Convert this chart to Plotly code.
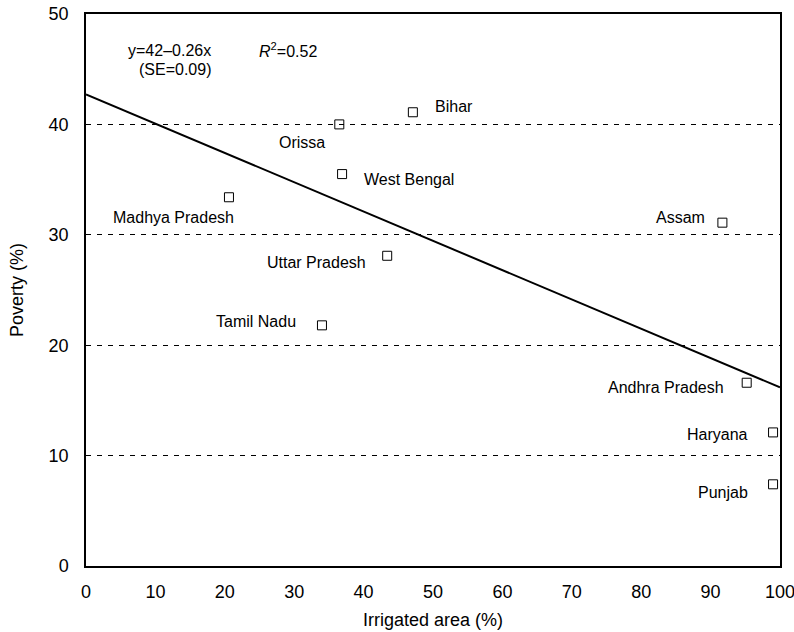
import numpy as np
import plotly.graph_objects as go

# State-level data: share of irrigated area vs. poverty rate
states = ["Bihar", "Orissa", "West Bengal", "Madhya Pradesh", "Assam",
          "Uttar Pradesh", "Tamil Nadu", "Andhra Pradesh", "Haryana", "Punjab"]
irrigated = [47.1, 36.5, 36.9, 20.6, 91.7, 43.4, 34.0, 95.2, 99.0, 99.0]
poverty = [41.1, 40.0, 35.5, 33.4, 31.1, 28.1, 21.8, 16.6, 12.1, 7.4]

x_ticks = [0, 10, 20, 30, 40, 50, 60, 70, 80, 90, 100]
y_ticks = [0, 10, 20, 30, 40, 50]

# Label placement for each state (anchor side, pixel offsets from the marker)
label_style = {
    "Bihar": ("left", 20, 6),
    "Orissa": ("right", -12, -18),
    "West Bengal": ("left", 20, -5),
    "Madhya Pradesh": ("right", 7, -20),
    "Assam": ("right", -15, 5),
    "Uttar Pradesh": ("right", -19, -7),
    "Tamil Nadu": ("right", -24, 4),
    "Andhra Pradesh": ("right", -21, -5),
    "Haryana": ("right", -23, -2),
    "Punjab": ("right", -23, -8),
}

FONT = "Liberation Sans, Arial, Helvetica, sans-serif"

# Least-squares fit of poverty on irrigated area
slope, intercept = np.polyfit(irrigated, poverty, 1)
fit_x = np.array([0.0, 100.0])
fit_y = intercept + slope * fit_x

fig = go.Figure()

fig.add_trace(go.Scatter(
    x=fit_x, y=fit_y, mode="lines",
    line=dict(color="black", width=2),
    hoverinfo="skip", showlegend=False,
))

fig.add_trace(go.Scatter(
    x=irrigated, y=poverty, mode="markers", text=states,
    marker=dict(symbol="square-open", size=9, color="black",
                line=dict(width=1, color="black")),
    showlegend=False,
))

annotations = []
for name, xv, yv in zip(states, irrigated, poverty):
    side, dx, dy = label_style[name]
    annotations.append(dict(
        x=xv, y=yv, xref="x", yref="y", text=name, showarrow=False,
        xanchor=side, yanchor="middle", xshift=dx, yshift=dy,
        font=dict(family=FONT, size=16, color="black"),
    ))

# Regression summary
annotations += [
    dict(x=18.3, y=46.7, xref="x", yref="y", text="y=42\u20130.26x",
         showarrow=False, xanchor="right", yanchor="middle",
         font=dict(family=FONT, size=16, color="black")),
    dict(x=18.3, y=45.0, xref="x", yref="y", text="(SE=0.09)",
         showarrow=False, xanchor="right", yanchor="middle",
         font=dict(family=FONT, size=16, color="black")),
    dict(x=24.6, y=46.7, xref="x", yref="y",
         text="<i>R</i><sup>2</sup>=0.52",
         showarrow=False, xanchor="left", yanchor="middle",
         font=dict(family=FONT, size=16, color="black")),
]

fig.update_layout(
    width=794, height=632,
    margin=dict(l=86, r=14, t=14, b=66),
    paper_bgcolor="white", plot_bgcolor="white",
    font=dict(family=FONT, color="black"),
    annotations=annotations,
)

fig.update_xaxes(
    range=[0, 100], tickvals=x_ticks, ticks="", showgrid=False,
    zeroline=False, showline=True, linecolor="black", linewidth=1.5,
    mirror=True, tickfont=dict(family=FONT, size=18, color="black"),
    ticklabelstandoff=9, ticklabeloverflow="allow",
    title=dict(text="Irrigated area (%)",
               font=dict(family=FONT, size=18, color="black"), standoff=12),
    automargin=False,
)

fig.update_yaxes(
    range=[0, 50], tickvals=y_ticks, ticks="",
    showgrid=True, gridcolor="black", gridwidth=1, griddash="5px,6px",
    zeroline=False, showline=True, linecolor="black", linewidth=1.5,
    mirror=True, tickfont=dict(family=FONT, size=18, color="black"),
    ticklabelstandoff=12, ticklabeloverflow="allow",
    title=dict(text="Poverty (%)",
               font=dict(family=FONT, size=18, color="black"), standoff=20),
    automargin=False,
)

fig.write_html("out.html")
